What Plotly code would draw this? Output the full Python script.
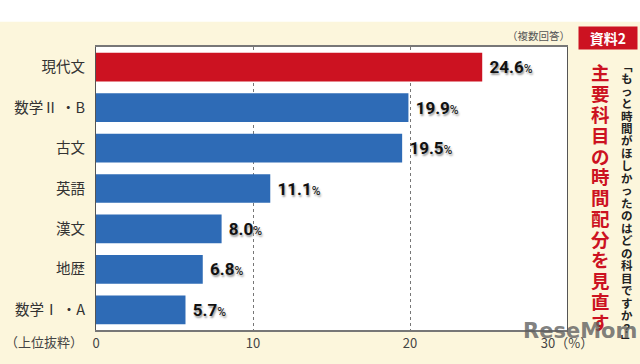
import plotly.graph_objects as go

categories = ["現代文", "数学Ⅱ・B", "古文", "英語", "漢文", "地歴", "数学Ⅰ・A"]
values = [24.6, 19.9, 19.5, 11.1, 8.0, 6.8, 5.7]
bar_colors = ["#cc1221", "#2e6bb6", "#2e6bb6", "#2e6bb6", "#2e6bb6", "#2e6bb6", "#2e6bb6"]
tick_vals = [0, 10, 20, 30]
tick_text = ["0", "10", "20", "30（%）"]
cat_labels = ["現代文", "数学Ⅱ ・B", "古文", "英語", "漢文", "地歴", "数学Ⅰ ・A"]

title_red = "主要科目の時間配分を見直す"
title_black = "﹁もっと時間がほしかったのはどの科目ですか？﹂"

JP = "Noto Sans CJK JP"

L, R, T, B = 96, 567, 47, 337
PW, PH = R - L, B - T


def px(x):
    return (x - L) / PW


def py(y):
    return (B - y) / PH


labels = [f" <b>{v:.1f}</b><span style='font-size:12px;font-weight:normal'>%</span>" for v in values]

fig = go.Figure()
fig.add_trace(go.Bar(
    y=categories, x=values, orientation="h",
    marker=dict(color=bar_colors, line=dict(width=0)),
    text=labels, textposition="outside", cliponaxis=False,
    textfont=dict(family="Roboto", size=17, color="#111", weight=900,
                  shadow="1px 2px 2px #999"),
    hoverinfo="skip",
))

fig.update_layout(
    width=640, height=364,
    margin=dict(l=L, r=640 - R, t=T, b=364 - B),
    paper_bgcolor="#fcf6dc",
    plot_bgcolor="#ffffff",
    bargap=0.29,
    showlegend=False,
    font=dict(family=JP, color="#333"),
)
fig.update_yaxes(
    autorange="reversed",
    tickvals=categories, ticktext=cat_labels,
    tickfont=dict(family=JP, size=14.5, color="#333"),
    ticks="outside", ticklen=7, tickcolor="rgba(0,0,0,0)",
    showline=True, linecolor="#555", linewidth=1, mirror=True,
    showgrid=False,
)
fig.update_xaxes(
    range=[0, 30], tickvals=tick_vals, ticktext=tick_text,
    tickfont=dict(family=JP, size=13, color="#444"),
    showgrid=True, gridcolor="#777", griddash="dot", gridwidth=1,
    showline=True, linecolor="#777", linewidth=2, mirror=True,
    zeroline=False, ticks="",
)

# white strip at the top
fig.add_shape(type="rect", xref="paper", yref="paper", x0=-0.3, x1=1.3,
              y0=py(21), y1=py(-10), fillcolor="#ffffff", line=dict(width=0), layer="below")


def note(text, x, y, size, color, bold=False, family=JP, **kw):
    fig.add_annotation(text=f"<b>{text}</b>" if bold else text, xref="paper", yref="paper",
                       x=px(x), y=py(y), showarrow=False,
                       font=dict(family=family, size=size, color=color),
                       xanchor="center", yanchor="middle", **kw)


note("（複数回答）", 538, 35, 10.5, "#555")
note("（上位抜粋）", 44, 349, 13, "#444")

# 資料2 badge
note("資料2", 608, 38, 14, "#ffffff", bold=True, bgcolor="#cc1221", width=56, height=20)

# vertical titles, one character per annotation
for i, c in enumerate(title_red):
    note(c, 600, 73 + i * 21.3, 18.5, "#cc1221", bold=True, borderpad=0)
for i, c in enumerate(title_black):
    note(c, 627, 66 + i * 12.8, 11.5, "#222", bold=True, borderpad=0)

# watermark
note("ReseMom", 580, 338, 21, "rgba(95,95,95,0.8)", bold=True, family="DejaVu Sans")

fig.write_html("out.html", config={"displayModeBar": False},
               post_script="document.body.style.margin='0';")
